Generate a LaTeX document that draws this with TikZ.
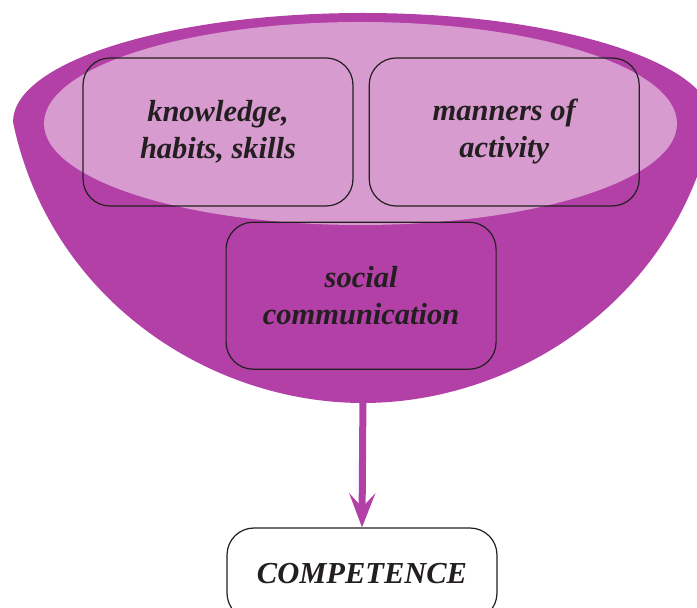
\documentclass[tikz,border=0pt]{standalone}
\usepackage{fontspec}
\setmainfont{Liberation Serif}
\usetikzlibrary{arrows.meta,positioning,calc}
\definecolor{bowlpurple}{RGB}{179,64,167}
\definecolor{bowllight}{RGB}{216,155,208}
\definecolor{inkgray}{RGB}{35,31,32}

\begin{document}
\begin{tikzpicture}[
  x=1pt,y=1pt,
  node distance=15pt,
  every node/.style={font=\fontsize{30.5}{37}\selectfont\bfseries\itshape,text=inkgray},
  box/.style={draw=inkgray,line width=1.2pt,rounded corners=27pt,align=center,
    minimum width=270pt,minimum height=148pt},
  arr/.style={-{Stealth[length=34pt,width=26pt,inset=14pt]},line width=7pt,draw=bowlpurple}
]
\useasboundingbox (0,0) rectangle (697,608);
\fill[bowlpurple] (13,486) .. controls (50,308) and (210,205) .. (363,205)
  .. controls (516,205) and (676,308) .. (713,486)
  arc[start angle=0,end angle=180,x radius=350,y radius=109] -- cycle;
\fill[bowllight] (360.5,484.5) ellipse (316.5 and 101.5);
\coordinate (bot) at (363,215);
\node[box] (know) at (218,476) {knowledge,\\habits, skills};
\node[box,right=of know] (mann) {manners of\\activity};
\node[box,minimum height=147pt,anchor=north] (soc)
  at ($(know.south east)!.5!(mann.south west)+(0,-15)$) {social\\communication};
\node[box,fill=white,minimum height=92pt] (comp) at (362,34) {COMPETENCE};
\draw[arr] (bot)--(comp.north);
\end{tikzpicture}
\end{document}
